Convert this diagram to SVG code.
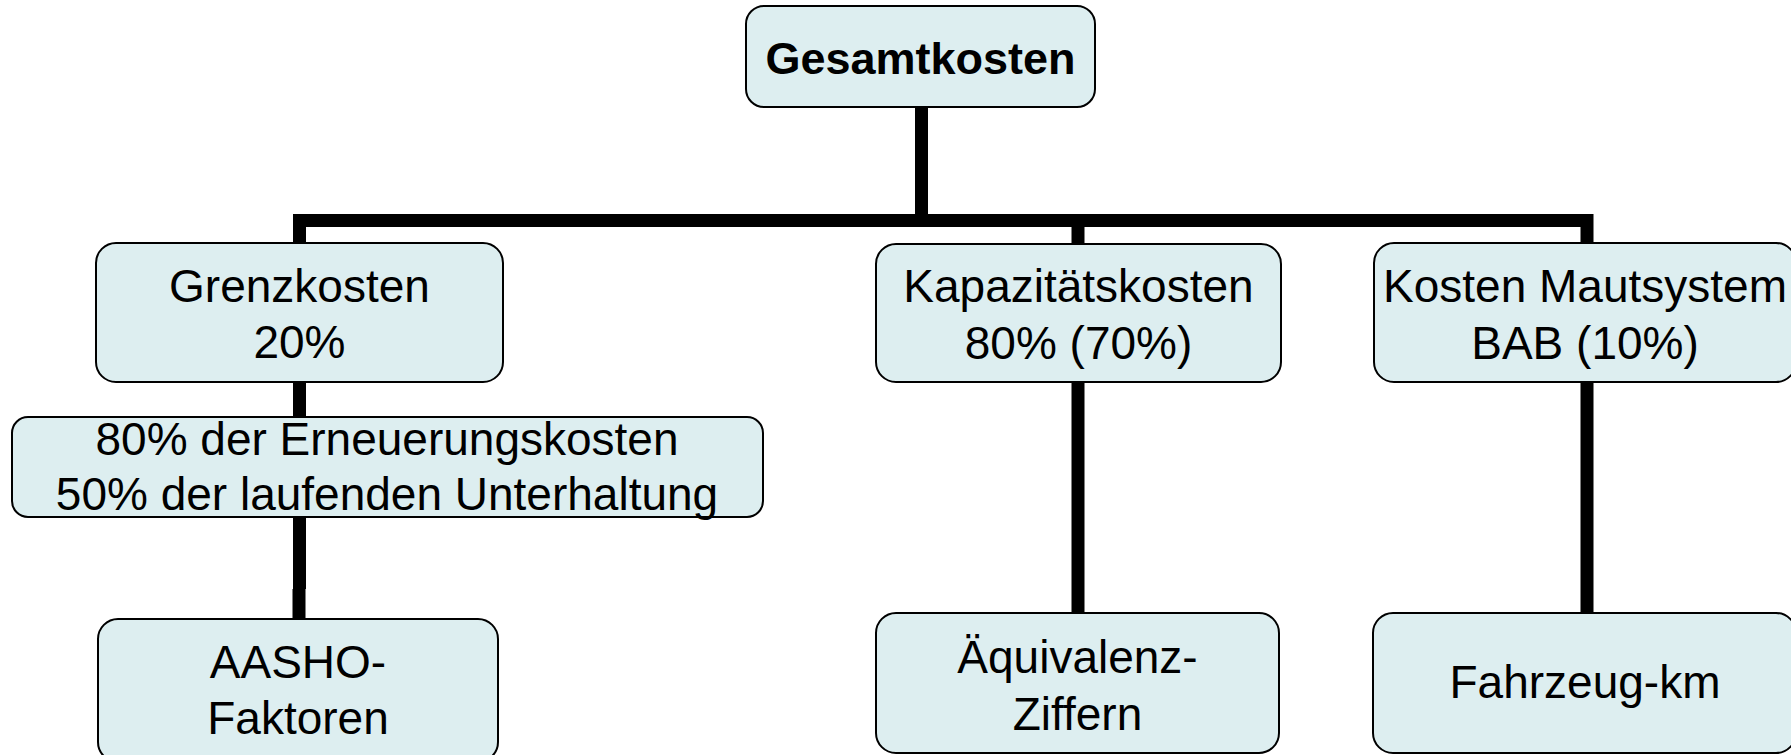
<svg xmlns="http://www.w3.org/2000/svg" width="1791" height="755" viewBox="0 0 1791 755">
<style>
.box{fill:#DDEEF0;stroke:#000;stroke-width:2}
.t{font-family:"Liberation Sans",Arial,sans-serif;font-size:46px;fill:#000;text-anchor:middle}
.b{font-weight:bold;font-size:45px}
.c{fill:none;stroke:#000;stroke-width:13;stroke-linejoin:miter;stroke-linecap:butt}
</style>
<rect width="1791" height="755" fill="#fff"/>
<g id="connectors">
<path class="c" d="M299.5,243 V220.5 H1587 V243"/>
<path class="c" d="M921.5,107 V227"/>
<path class="c" d="M1078,220 V244"/>
<path class="c" d="M299.5,382 V418"/>
<path class="c" d="M299.5,517 V589 M299,589 V619"/>
<path class="c" d="M1078,382 V613"/>
<path class="c" d="M1587,382 V613"/>
</g>
<g id="gesamtkosten">
<rect class="box" x="746" y="6" width="349" height="101" rx="18"/>
<text class="t b" x="920.5" y="74">Gesamtkosten</text>
</g>
<g id="grenzkosten">
<rect class="box" x="96" y="243" width="407" height="139" rx="20"/>
<text class="t" x="299.5" y="302">Grenzkosten</text>
<text class="t" x="299.5" y="358">20%</text>
</g>
<g id="kapazitaetskosten">
<rect class="box" x="876" y="244" width="405" height="138" rx="20"/>
<text class="t" x="1078.5" y="302">Kapazitätskosten</text>
<text class="t" x="1078.5" y="359">80% (70%)</text>
</g>
<g id="mautsystem">
<rect class="box" x="1374" y="243" width="422" height="139" rx="20"/>
<text class="t" x="1585" y="302">Kosten Mautsystem</text>
<text class="t" x="1585" y="359">BAB (10%)</text>
</g>
<g id="erneuerung">
<rect class="box" x="12" y="417" width="751" height="100" rx="16"/>
<text class="t" x="387" y="455">80% der Erneuerungskosten</text>
<text class="t" x="387" y="510">50% der laufenden Unterhaltung</text>
</g>
<g id="aasho">
<rect class="box" x="98" y="619" width="400" height="143" rx="20"/>
<text class="t" x="298" y="678">AASHO-</text>
<text class="t" x="298" y="734">Faktoren</text>
</g>
<g id="aequivalenz">
<rect class="box" x="876" y="613" width="403" height="140" rx="20"/>
<text class="t" x="1077.5" y="673">Äquivalenz-</text>
<text class="t" x="1077.5" y="730">Ziffern</text>
</g>
<g id="fahrzeugkm">
<rect class="box" x="1373" y="613" width="423" height="140" rx="20"/>
<text class="t" x="1585" y="698">Fahrzeug-km</text>
</g>
</svg>
